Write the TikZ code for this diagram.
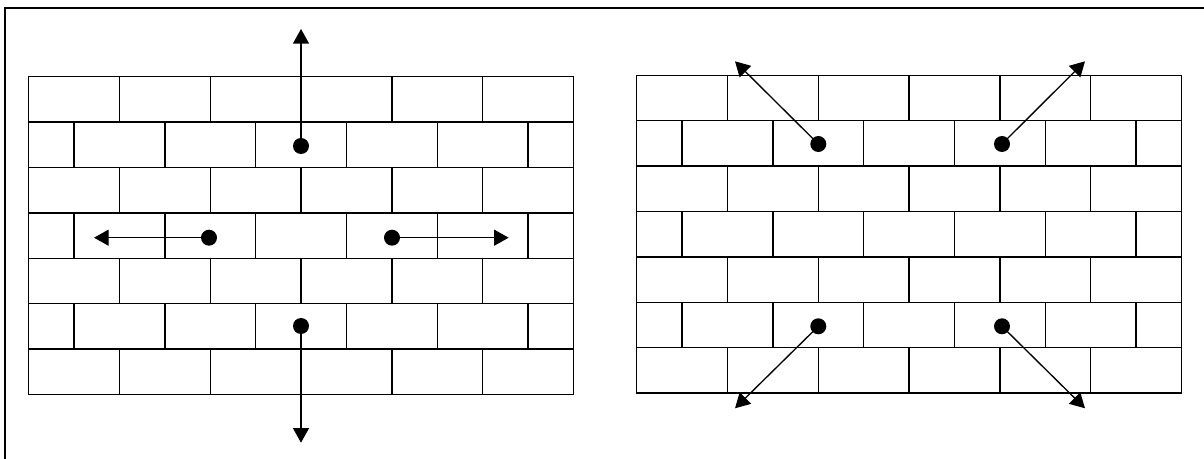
\documentclass[tikz,border=0pt]{standalone}
\usetikzlibrary{arrows.meta}
\tikzset{
  brick/.style={line width=1.1pt},
  dot/.style={circle,fill=black,inner sep=0pt,minimum size=12pt},
  push/.style={line width=1pt,-{Triangle[length=11pt,width=12pt]}},
  frameline/.style={line width=1.5pt}
}
\newcommand{\brickwall}[2]{%
  \begin{scope}[shift={(#1,#2)}]
    \draw[brick] (0,0) rectangle (544.8,317.8);
    \foreach \i in {1,...,6} \draw[brick] (0,\i*45.4) -- (544.8,\i*45.4);
    \foreach \r in {0,2,4,6} \foreach \k in {1,...,5} \draw[brick] (\k*90.8,\r*45.4) -- ++(0,45.4);
    \foreach \r in {1,3,5} \foreach \k in {0,...,5} \draw[brick] (45.4+\k*90.8,\r*45.4) -- ++(0,45.4);
  \end{scope}}
\begin{document}
\begin{tikzpicture}[x=0.75pt,y=-0.75pt]
\useasboundingbox (0,0) rectangle (1204,459);
\draw[frameline] (5,459) -- (5,8.5) -- (1204,8.5);
\brickwall{28.7}{76.7}
\brickwall{636.7}{75.3}
% left wall forces
\node[dot] (lu) at (301,146) {};
\node[dot] (ld) at (301,326) {};
\node[dot] (ll) at (209,237.7) {};
\node[dot] (lr) at (392,237.7) {};
\coordinate (tu) at (301,29);
\coordinate (td) at (301,442.7);
\coordinate (tl) at (94,237.7);
\coordinate (tr) at (508.7,237.7);
\draw[push] (lu.center) -- (tu);
\draw[push] (ld.center) -- (td);
\draw[push] (ll.center) -- (tl);
\draw[push] (lr.center) -- (tr);
% right wall forces
\node[dot] (rul) at (818.3,144) {};
\node[dot] (rur) at (1002,144) {};
\node[dot] (rdl) at (818.3,326.3) {};
\node[dot] (rdr) at (1002,326.3) {};
\coordinate (sul) at (735,61.3);
\coordinate (sur) at (1085,61.3);
\coordinate (sdl) at (735,408.3);
\coordinate (sdr) at (1085,408.3);
\draw[push] (rul.center) -- (sul);
\draw[push] (rur.center) -- (sur);
\draw[push] (rdl.center) -- (sdl);
\draw[push] (rdr.center) -- (sdr);
\end{tikzpicture}
\end{document}
